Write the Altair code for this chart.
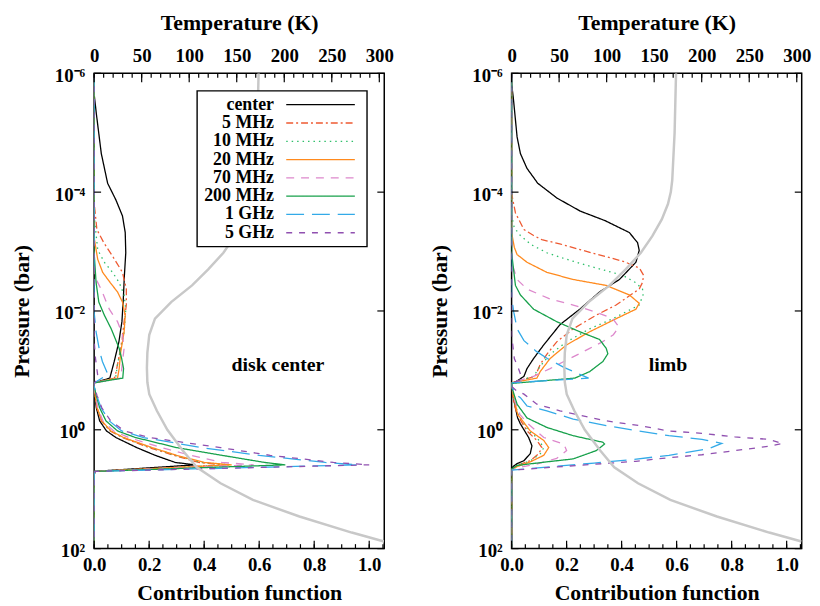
import altair as alt
import pandas as pd

SERIES = ["center", "5 MHz", "10 MHz", "20 MHz", "70 MHz", "200 MHz", "1 GHz", "5 GHz"]
COLORS = ["#000000", "#EE5A32", "#2EBF6A", "#FF8A1E", "#DD88CC", "#16A04A", "#33AAE8", "#9050B0"]
DASHES = [[1, 0], [7, 3, 2, 3], [1.5, 4], [1, 0], [8, 7], [1, 0], [18, 8], [6, 7]]

# ---- disk center panel: (log10 P [bar], contribution) ----
DC_CENTER = [(-6, 0), (-5.65, 0), (-5.32, 0.008), (-4.65, 0.026), (-4.15, 0.049), (-3.87, 0.079), (-3.6, 0.103),
             (-3.32, 0.113), (-2.98, 0.115), (-2.6, 0.11), (-2.2, 0.106), (-1.82, 0.101), (-1.48, 0.09),
             (-1.15, 0.073), (-0.87, 0.057), (-0.79, 0), (-0.73, 0), (-0.57, 0.003), (-0.37, 0.008),
             (-0.15, 0.02), (0.02, 0.045), (0.13, 0.079), (0.30, 0.155), (0.43, 0.222), (0.55, 0.295),
             (0.59, 0.368), (0.70, 0.003), (0.76, 0), (2, 0)]
DC_5MHZ = [(-6, 0), (-3.82, 0), (-3.37, 0.01), (-3.15, 0.035), (-2.9, 0.07), (-2.65, 0.103), (-2.37, 0.117),
           (-2.1, 0.117), (-1.82, 0.109), (-1.53, 0.102), (-1.27, 0.092), (-0.98, 0.08), (-0.87, 0.074),
           (-0.79, 0), (-0.73, 0), (-0.57, 0.004), (-0.37, 0.010), (-0.15, 0.026), (0.02, 0.058), (0.13, 0.103),
           (0.30, 0.20), (0.43, 0.29), (0.55, 0.38), (0.59, 0.48), (0.70, 0.003), (0.76, 0), (2, 0)]
DC_10MHZ = [(-6, 0), (-3.6, 0), (-3.03, 0.013), (-2.82, 0.037), (-2.65, 0.067), (-2.48, 0.091), (-2.27, 0.109),
            (-2.03, 0.115), (-1.65, 0.109), (-1.37, 0.097), (-1.1, 0.085), (-0.87, 0.078), (-0.79, 0),
            (-0.73, 0), (-0.57, 0.004), (-0.37, 0.011), (-0.15, 0.027), (0.02, 0.06), (0.13, 0.105),
            (0.30, 0.206), (0.43, 0.295), (0.55, 0.39), (0.59, 0.49), (0.70, 0.003), (0.76, 0), (2, 0)]
DC_20MHZ = [(-6, 0), (-3.23, 0), (-2.87, 0.013), (-2.65, 0.031), (-2.48, 0.058), (-2.32, 0.085), (-2.15, 0.103),
            (-1.93, 0.113), (-1.65, 0.109), (-1.32, 0.097), (-1.03, 0.091), (-0.87, 0.085), (-0.79, 0),
            (-0.73, 0), (-0.57, 0.004), (-0.37, 0.011), (-0.15, 0.028), (0.02, 0.061), (0.13, 0.107),
            (0.30, 0.211), (0.43, 0.30), (0.55, 0.40), (0.59, 0.50), (0.70, 0.003), (0.76, 0), (2, 0)]
DC_70MHZ = [(-6, 0), (-2.6, 0), (-2.37, 0.025), (-2.03, 0.055), (-1.82, 0.085), (-1.6, 0.103), (-1.37, 0.109),
            (-1.15, 0.103), (-0.87, 0.097), (-0.79, 0), (-0.73, 0), (-0.57, 0.005), (-0.37, 0.013),
            (-0.15, 0.032), (0.02, 0.071), (0.13, 0.125), (0.30, 0.245), (0.43, 0.35), (0.55, 0.465),
            (0.59, 0.58), (0.70, 0.003), (0.76, 0), (2, 0)]
DC_200MHZ = [(-6, 0), (-2.98, 0), (-2.48, 0.007), (-2.15, 0.017), (-1.93, 0.037), (-1.7, 0.062), (-1.37, 0.091),
             (-1.2, 0.1), (-1.03, 0.107), (-0.87, 0.104), (-0.79, 0), (-0.73, 0), (-0.57, 0.008), (-0.37, 0.02),
             (-0.15, 0.043), (0.02, 0.085), (0.13, 0.15), (0.30, 0.30), (0.43, 0.465), (0.55, 0.62),
             (0.59, 0.695), (0.70, 0.003), (0.76, 0), (2, 0)]
DC_1GHZ = [(-6, 0), (-1.98, 0), (-1.65, 0.007), (-1.32, 0.02), (-1.15, 0.03), (-0.93, 0.05), (-0.79, 0),
           (-0.73, 0), (-0.57, 0.01), (-0.37, 0.025), (-0.15, 0.055), (0.02, 0.10), (0.13, 0.18), (0.30, 0.39),
           (0.43, 0.60), (0.55, 0.84), (0.59, 0.96), (0.70, 0.003), (0.76, 0), (2, 0)]
DC_5GHZ = [(-6, 0), (-1.5, 0), (-1.2, 0.005), (-0.95, 0.012), (-0.85, 0.015), (-0.79, 0), (-0.73, 0),
           (-0.57, 0.011), (-0.37, 0.028), (-0.15, 0.06), (0.02, 0.11), (0.13, 0.20), (0.30, 0.46), (0.43, 0.64),
           (0.55, 0.87), (0.59, 1.0), (0.70, 0.003), (0.76, 0), (2, 0)]

# ---- limb panel ----
LB_CENTER = [(-6, 0), (-5.82, 0), (-5.6, 0.006), (-4.93, 0.02), (-4.65, 0.032), (-4.4, 0.056), (-4.15, 0.095),
             (-3.9, 0.165), (-3.68, 0.25), (-3.52, 0.34), (-3.32, 0.428), (-3.15, 0.458), (-3.02, 0.464),
             (-2.82, 0.452), (-2.53, 0.392), (-2.32, 0.32), (-2.03, 0.248), (-1.77, 0.176), (-1.43, 0.117),
             (-1.2, 0.08), (-1.03, 0.056), (-0.9, 0.045), (-0.82, 0.02), (-0.78, 0), (-0.73, 0), (-0.48, 0.009),
             (-0.2, 0.022), (-0.1, 0.032), (0.13, 0.062), (0.27, 0.074), (0.4, 0.068), (0.52, 0.045),
             (0.57, 0.02), (0.62, 0.005), (0.68, 0), (2, 0)]
LB_5MHZ = [(-6, 0), (-3.98, 0), (-3.65, 0.014), (-3.37, 0.045), (-3.27, 0.08), (-3.2, 0.11), (-3.13, 0.175),
           (-2.98, 0.29), (-2.83, 0.41), (-2.72, 0.465), (-2.6, 0.48), (-2.48, 0.476), (-2.37, 0.464),
           (-2.1, 0.38), (-1.93, 0.308), (-1.7, 0.224), (-1.48, 0.164), (-1.27, 0.128), (-1.1, 0.104),
           (-0.9, 0.086), (-0.79, 0), (-0.73, 0), (-0.48, 0.007), (-0.26, 0.02), (0.02, 0.056), (0.18, 0.092),
           (0.3, 0.11), (0.4, 0.099), (0.52, 0.068), (0.6, 0.02), (0.66, 0), (2, 0)]
LB_10MHZ = [(-6, 0), (-3.6, 0), (-3.4, 0.01), (-3.27, 0.032), (-3.12, 0.07), (-2.98, 0.128), (-2.87, 0.2),
            (-2.77, 0.272), (-2.6, 0.404), (-2.48, 0.45), (-2.37, 0.476), (-2.27, 0.478), (-2.1, 0.464),
            (-1.87, 0.368), (-1.7, 0.284), (-1.48, 0.2), (-1.27, 0.14), (-1.07, 0.104), (-0.9, 0.08),
            (-0.79, 0), (-0.73, 0), (-0.48, 0.008), (-0.26, 0.025), (0.02, 0.062), (0.13, 0.092), (0.3, 0.117),
            (0.4, 0.105), (0.52, 0.07), (0.6, 0.02), (0.66, 0), (2, 0)]
LB_20MHZ = [(-6, 0), (-3.32, 0), (-3.07, 0.01), (-2.95, 0.02), (-2.82, 0.056), (-2.65, 0.128), (-2.53, 0.224),
            (-2.43, 0.344), (-2.27, 0.428), (-2.13, 0.464), (-2.03, 0.452), (-1.87, 0.38), (-1.65, 0.284),
            (-1.43, 0.2), (-1.2, 0.14), (-0.98, 0.104), (-0.87, 0.092), (-0.79, 0), (-0.73, 0), (-0.5, 0.01),
            (-0.26, 0.022), (0.02, 0.068), (0.18, 0.117), (0.3, 0.135), (0.43, 0.117), (0.54, 0.068),
            (0.62, 0.02), (0.67, 0), (2, 0)]
LB_70MHZ = [(-6, 0), (-2.82, 0), (-2.53, 0.02), (-2.37, 0.056), (-2.2, 0.14), (-2.1, 0.224), (-1.98, 0.308),
            (-1.87, 0.368), (-1.73, 0.39), (-1.6, 0.37), (-1.48, 0.33), (-1.37, 0.284), (-1.2, 0.212),
            (-1.03, 0.14), (-0.9, 0.08), (-0.79, 0), (-0.73, 0), (-0.48, 0.012), (-0.26, 0.03), (-0.1, 0.06),
            (0.13, 0.117), (0.24, 0.19), (0.35, 0.2), (0.48, 0.164), (0.58, 0.09), (0.64, 0.02), (0.68, 0),
            (2, 0)]
LB_200MHZ = [(-6, 0), (-2.98, 0), (-2.43, 0.014), (-2.27, 0.032), (-2.03, 0.08), (-1.82, 0.164), (-1.65, 0.248),
             (-1.52, 0.32), (-1.37, 0.344), (-1.28, 0.35), (-1.15, 0.332), (-0.98, 0.284), (-0.87, 0.23),
             (-0.78, 0), (-0.73, 0), (-0.43, 0.02), (-0.2, 0.056), (-0.04, 0.128), (0.1, 0.224), (0.21, 0.332),
             (0.24, 0.338), (0.35, 0.308), (0.49, 0.224), (0.54, 0.128), (0.6, 0.02), (0.66, 0), (2, 0)]
LB_1GHZ = [(-6, 0), (-2.23, 0), (-1.98, 0.008), (-1.7, 0.02), (-1.5, 0.045), (-1.32, 0.09), (-1.2, 0.13),
           (-1.05, 0.19), (-0.87, 0.28), (-0.79, 0), (-0.73, 0), (-0.6, 0.015), (-0.54, 0.032), (-0.4, 0.056),
           (-0.32, 0.128), (-0.18, 0.224), (-0.07, 0.344), (0.02, 0.464), (0.1, 0.572), (0.16, 0.692),
           (0.23, 0.764), (0.32, 0.716), (0.43, 0.572), (0.5, 0.44), (0.56, 0.3), (0.62, 0.15), (0.68, 0), (2, 0)]
LB_5GHZ = [(-6, 0), (-1.6, 0), (-1.2, 0.01), (-1.03, 0.025), (-0.9, 0.035), (-0.84, 0.035), (-0.79, 0),
           (-0.73, 0), (-0.65, 0.02), (-0.6, 0.045), (-0.43, 0.092), (-0.32, 0.176), (-0.15, 0.344),
           (-0.07, 0.464), (0.02, 0.572), (0.06, 0.692), (0.12, 0.812), (0.16, 0.932), (0.23, 0.986),
           (0.28, 0.932), (0.35, 0.812), (0.42, 0.692), (0.47, 0.572), (0.53, 0.452), (0.6, 0.24), (0.68, 0),
           (2, 0)]

# ---- temperature profile ----
TEMP_LOGP = [-6, -5, -4.2, -4, -3.8, -3.54, -3.26, -2.98, -2.7, -2.43, -2.15, -1.87, -1.6, -1.3, -1.04, -0.8,
             -0.6, -0.32, 0, 0.345, 0.63, 0.9, 1.18, 1.46, 1.73, 1.88]
TEMP_K = [173, 171.5, 169, 167.5, 164.5, 158, 148, 136, 120, 103, 81, 64, 58, 56, 55.5, 56, 58, 66, 77, 93, 108,
          133, 167, 216, 271, 305]

# ---- tick values ----
C_MAJOR = [0, 0.2, 0.4, 0.6, 0.8, 1.0]
C_MINOR = [round(0.05 * i, 2) for i in range(22)]
T_MAJOR = list(range(0, 301, 50))
T_MINOR = list(range(0, 301, 10))
Y_TICKS = [1e-6, 1e-4, 1e-2, 1, 100]

PANEL_LABELS = ["disk center", "limb"]
LABEL_C = [0.668, 0.569]
LABEL_LOGP = -1.095

W, H = 293, 480
C_MAX = 1.0547
T_MAX = 305.2
FONT = "Liberation Serif"
YLABEL = ("datum.value < 1e-5 ? '10\u207b\u2076' : datum.value < 1e-3 ? '10\u207b\u2074' : "
          "datum.value < 0.1 ? '10\u207b\u00b2' : datum.value < 10 ? '10\u2070' : '10\u00b2'")


def series_frame(lists):
    rows = []
    for name, pts in zip(SERIES, lists):
        for i, (lp, c) in enumerate(pts):
            rows.append({"series": name, "idx": i, "P": 10 ** lp, "c": c})
    return pd.DataFrame(rows)


temp_df = pd.DataFrame({"P": [10 ** v for v in TEMP_LOGP], "T": TEMP_K, "idx": list(range(len(TEMP_K)))})

yscale = alt.Scale(type="log", domain=[1e-6, 1e2], reverse=True, nice=False)
cscale = alt.Scale(domain=[0, C_MAX], nice=False, zero=False)
tscale = alt.Scale(domain=[0, T_MAX], nice=False, zero=False)
color_scale = alt.Scale(domain=SERIES, range=COLORS)
dash_scale = alt.Scale(domain=SERIES, range=DASHES)

C_AXIS = alt.Axis(orient="bottom", values=C_MAJOR, format=".1f", title="Contribution function", ticks=False,
                  labelPadding=7.5, titlePadding=8, domain=False, grid=False)
Y_AXIS = alt.Axis(orient="left", values=Y_TICKS, labelExpr=YLABEL, title="Pressure (bar)", ticks=False,
                  labelPadding=9.5, titlePadding=21, labelOffset=2, domain=False, grid=False)
T_AXIS = alt.Axis(orient="top", values=T_MAJOR, format="d", title="Temperature (K)", ticks=False,
                  labelPadding=8, titlePadding=12, domain=False, grid=False)

X_C = alt.X("c:Q", scale=cscale, axis=C_AXIS)
Y_P = alt.Y("P:Q", scale=yscale, axis=Y_AXIS)
X_T = alt.X("T:Q", scale=tscale, axis=T_AXIS)


def tick_rules(field, values, **vals):
    df = pd.DataFrame({field: values})
    base = alt.Chart(df).mark_rule(color="black", strokeWidth=1.2)
    if field == "P":
        return base.encode(y=Y_P, **vals)
    if field == "c":
        return base.encode(x=X_C, **vals)
    return base.encode(x=X_T, **vals)


def panel(df, label, label_c, with_legend):
    lines = alt.Chart(df).mark_line(strokeWidth=1.3, clip=True).encode(
        x=X_C,
        y=Y_P,
        color=alt.Color("series:N", scale=color_scale, legend=None),
        strokeDash=alt.StrokeDash("series:N", scale=dash_scale, legend=None),
        order=alt.Order("idx:Q"),
    )
    ann_df = pd.DataFrame({"c": [label_c], "P": [10 ** LABEL_LOGP], "text": [label]})
    ann = alt.Chart(ann_df).mark_text(font=FONT, fontSize=20, fontWeight="bold", color="black").encode(
        x=X_C, y=Y_P, text="text:N")
    c_ticks = [
        tick_rules("c", C_MAJOR, y=alt.value(H), y2=alt.value(H - 8)),
        tick_rules("c", C_MINOR, y=alt.value(H), y2=alt.value(H - 4.5)),
        tick_rules("P", Y_TICKS, x=alt.value(0), x2=alt.value(7)),
        tick_rules("P", Y_TICKS, x=alt.value(W), x2=alt.value(W - 7)),
    ]
    c_part = alt.layer(lines, ann, *c_ticks)

    t_line = alt.Chart(temp_df).mark_line(color="#c8c8c8", strokeWidth=2.5, clip=True).encode(
        x=X_T,
        y=alt.Y("P:Q", scale=yscale, axis=None),
        order=alt.Order("idx:Q"),
    )
    t_ticks = [
        tick_rules("T", T_MAJOR, y=alt.value(0), y2=alt.value(9)),
        tick_rules("T", T_MINOR, y=alt.value(0), y2=alt.value(4.5)),
    ]
    t_part = alt.layer(t_line, *t_ticks)

    layers = [c_part, t_part]
    if with_legend:
        leg_df = pd.DataFrame({"series": SERIES, "row": list(range(len(SERIES)))})
        leg_y = alt.Y("row:Q", scale=alt.Scale(domain=[0, 7], range=[31.7, 161], nice=False, zero=False),
                      axis=None)
        box = alt.Chart(pd.DataFrame({"k": [0]})).mark_rect(fill="white", stroke="black", strokeWidth=1.4).encode(
            x=alt.value(104), x2=alt.value(275.6), y=alt.value(17.7), y2=alt.value(175))
        rules = alt.Chart(leg_df).mark_rule(strokeWidth=1.3).encode(
            x=alt.value(194), x2=alt.value(263.3), y=leg_y,
            color=alt.Color("series:N", scale=color_scale, legend=None),
            strokeDash=alt.StrokeDash("series:N", scale=dash_scale, legend=None))
        texts = alt.Chart(leg_df).mark_text(align="right", baseline="middle", font=FONT, fontSize=18,
                                            fontWeight="bold", color="black").encode(
            x=alt.value(181.6), y=leg_y, text="series:N")
        layers.append(alt.layer(box, rules, texts))
    return alt.layer(*layers).resolve_scale(x="independent", y="independent").properties(width=W, height=H)


left = panel(series_frame([DC_CENTER, DC_5MHZ, DC_10MHZ, DC_20MHZ, DC_70MHZ, DC_200MHZ, DC_1GHZ, DC_5GHZ]),
             PANEL_LABELS[0], LABEL_C[0], True)
right = panel(series_frame([LB_CENTER, LB_5MHZ, LB_10MHZ, LB_20MHZ, LB_70MHZ, LB_200MHZ, LB_1GHZ, LB_5GHZ]),
              PANEL_LABELS[1], LABEL_C[1], False)

chart = alt.hconcat(left, right, spacing=128.6, bounds="flush").properties(
    padding={"left": 2, "top": 0, "right": 0, "bottom": 0}
).configure_view(stroke="black", strokeWidth=1.5).configure_axis(
    labelFont=FONT, titleFont=FONT, labelFontSize=19, titleFontSize=22, labelFontWeight="bold",
    titleFontWeight="bold", labelColor="black", titleColor="black", labelFlush=False
)

chart.save("out.html", embed_options={"renderer": "svg", "actions": False})
